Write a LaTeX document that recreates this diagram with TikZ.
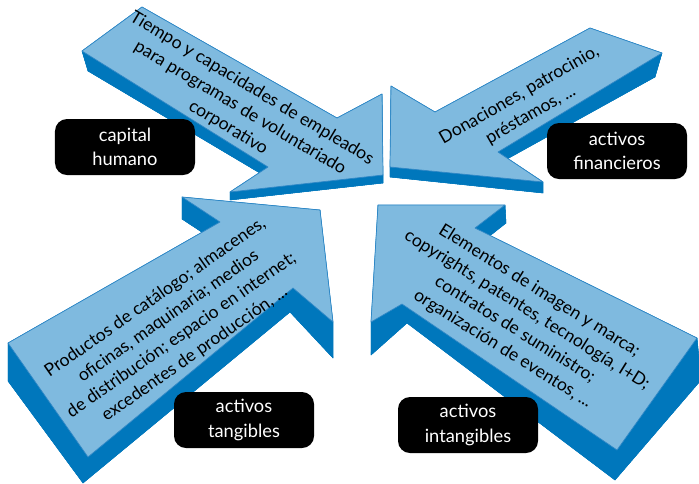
\documentclass[tikz,border=0pt]{standalone}
\usepackage{fontspec}
\setmainfont{Lato}
\definecolor{facebl}{HTML}{7FBADF}
\definecolor{edgebl}{HTML}{2F87C6}
\definecolor{sidebl}{HTML}{0077BC}

\begin{document}
\begin{tikzpicture}[x=0.25mm, y=-0.25mm,
    face/.style = {fill=facebl, draw=edgebl, line width=0.5pt, line join=round},
    side/.style = {fill=sidebl, draw=sidebl, line width=0.3pt, line join=round},
    say/.style = {align=center, font=\fontsize{12.5}{16.3}\selectfont},
    tag/.style = {fill=black, text=white, rounded corners=3mm, minimum width=35mm,
                  minimum height=14mm, align=center, font=\fontsize{13}{17.5}\selectfont}]
    \useasboundingbox (0,0) rectangle (699,483);

    % capital humano
    \foreach \i/\x/\y/\u/\v in {1/142/7/6/20, 2/82/51/6/20, 3/268/167/2/12, 4/230/192/0/8,
                                5/383/175/0/8, 6/382/94/0/8, 7/337/118/0/10}
        \path (\x,\y) coordinate (a\i) (\x+\u,\y+\v) coordinate (b\i);
    \path[side] (b1) -- (b2) -- (b3) -- (b4) -- (b5) -- (b6) -- (b7) -- cycle;
    \foreach \i/\j in {1/2,2/3,3/4,4/5,5/6,6/7,7/1}
        \path[side] (a\i) -- (a\j) -- (b\j) -- (b\i) -- cycle;
    \path[face] (a1) -- (a2) -- (a3) -- (a4) -- (a5) -- (a6) -- (a7) -- cycle;
    \node[say, rotate=-31] (tiempo) at (240,108)
        {Tiempo y capacidades de empleados\\para programas de voluntariado\\corporativo};

    % activos financieros
    \foreach \i/\x/\y/\u/\v in {1/590/28/-7/24, 2/662/53/-7/24, 3/498/152/0/12, 4/543/182/0/11,
                                5/390/167/0/10, 6/391/86/0/10, 7/435/112/-3/14}
        \path (\x,\y) coordinate (a\i) (\x+\u,\y+\v) coordinate (b\i);
    \path[side] (b1) -- (b2) -- (b3) -- (b4) -- (b5) -- (b6) -- (b7) -- cycle;
    \foreach \i/\j in {1/2,2/3,3/4,4/5,5/6,6/7,7/1}
        \path[side] (a\i) -- (a\j) -- (b\j) -- (b\i) -- cycle;
    \path[face] (a1) -- (a2) -- (a3) -- (a4) -- (a5) -- (a6) -- (a7) -- cycle;
    \node[say, rotate=30] (donaciones) at (525,105)
        {Donaciones, patrocinio,\\préstamos, ...};

    % activos tangibles
    \foreach \i/\x/\y/\u/\v in {1/8/343/0/38, 2/220/222/0/22, 3/182/197/0/22, 4/320/210/0/30,
                                5/333/322/0/36, 6/293/288/-3/24, 7/88/457/-5/26}
        \path (\x,\y) coordinate (a\i) (\x+\u,\y+\v) coordinate (b\i);
    \path[side] (b1) -- (b2) -- (b3) -- (b4) -- (b5) -- (b6) -- (b7) -- cycle;
    \foreach \i/\j in {1/2,2/3,3/4,4/5,5/6,6/7,7/1}
        \path[side] (a\i) -- (a\j) -- (b\j) -- (b\i) -- cycle;
    \path[face] (a1) -- (a2) -- (a3) -- (a4) -- (a5) -- (a6) -- (a7) -- cycle;
    \node[say, rotate=35] (productos) at (175,326)
        {Productos de catálogo; almacenes,\\oficinas, maquinaria; medios\\de distribución; espacio en internet;\\excedentes de producción, ...};

    % activos intangibles
    \foreach \i/\x/\y/\u/\v in {1/378/205/0/30, 2/505/205/1/18, 3/475/228/2/18, 4/697/338/4/42,
                                5/617/450/-2/30, 6/402/304/5/19, 7/371/322/0/33}
        \path (\x,\y) coordinate (a\i) (\x+\u,\y+\v) coordinate (b\i);
    \path[side] (b1) -- (b2) -- (b3) -- (b4) -- (b5) -- (b6) -- (b7) -- cycle;
    \foreach \i/\j in {1/2,2/3,3/4,4/5,5/6,6/7,7/1}
        \path[side] (a\i) -- (a\j) -- (b\j) -- (b\i) -- cycle;
    \path[face] (a1) -- (a2) -- (a3) -- (a4) -- (a5) -- (a6) -- (a7) -- cycle;
    \node[say, rotate=-32] (elementos) at (521,320)
        {Elementos de imagen y marca;\\copyrights, patentes, tecnología, I+D;\\contratos de suministro;\\organización de eventos, ...};

    % labels
    \node[tag] (humano) at (125,147) {capital\\humano};
    \node[tag] (financieros) at (617,151) {activos\\financieros};
    \node[tag] (tangibles) at (244,420) {activos\\tangibles};
    \node[tag] (intangibles) at (468,425) {activos\\intangibles};
\end{tikzpicture}
\end{document}
